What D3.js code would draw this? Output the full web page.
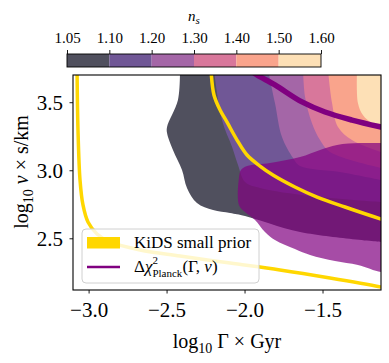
<!DOCTYPE html>
<html>
<head>
<meta charset="utf-8">
<script src="https://cdn.jsdelivr.net/npm/d3@7"></script>
<style>
body { margin: 0; background: #fff; }
text { font-family: "Liberation Serif", serif; fill: #000; }
</style>
</head>
<body>
<div id="chart"></div>
<script>
// colour levels of n_s
const nsLevels = [1.05, 1.10, 1.20, 1.30, 1.40, 1.50, 1.60];
const nsColors = ["#50505e", "#705796", "#a466a7", "#d8779b", "#f9a48c", "#fde0b6"];

const xTicks = [-3.0, -2.5, -2.0, -1.5];
const yTicks = [2.5, 3.0, 3.5];

// boundaries of n_s > level, as [log10 Gamma, log10 v], from top edge round to right edge
const ns105 = [[-2.414, 3.737], [-2.427, 3.516], [-2.497, 3.318], [-2.497, 3.274], [-2.459, 3.149],
    [-2.401, 3.002], [-2.369, 2.870], [-2.305, 2.759], [-2.202, 2.708], [-2.093, 2.686],
    [-1.997, 2.664], [-1.644, 2.546], [-1.125, 2.473]];
const ns110 = [[-2.196, 3.737], [-2.145, 3.369], [-2.080, 3.171], [-2.042, 3.039], [-1.997, 2.914],
    [-1.901, 2.870], [-1.580, 2.811], [-1.125, 2.767]];
const ns120 = [[-1.850, 3.737], [-1.805, 3.494], [-1.760, 3.244], [-1.689, 3.090], [-1.644, 3.031],
    [-1.388, 2.987], [-1.125, 2.928]];
const ns130 = [[-1.625, 3.737], [-1.612, 3.538], [-1.568, 3.347], [-1.516, 3.222], [-1.452, 3.134],
    [-1.125, 3.017]];
const ns140 = [[-1.465, 3.737], [-1.439, 3.494], [-1.401, 3.318], [-1.311, 3.222], [-1.125, 3.134]];
const ns150 = [[-1.279, 3.737], [-1.273, 3.494], [-1.241, 3.406], [-1.183, 3.347], [-1.125, 3.333]];
const nsRegions = [ns105, ns110, ns120, ns130, ns140, ns150];

// Delta chi^2 Planck filled region (closed)
const chi2Region = [[-2.036, 2.745], [-2.036, 2.943], [-2.023, 3.002], [-1.984, 3.031], [-1.837, 3.053],
    [-1.644, 3.097], [-1.516, 3.149], [-1.407, 3.186], [-1.260, 3.200], [-1.125, 3.200], [-1.05, 3.200],
    [-1.05, 2.252], [-1.125, 2.252], [-1.273, 2.304], [-1.420, 2.333], [-1.580, 2.377], [-1.677, 2.421],
    [-1.805, 2.487], [-1.869, 2.546], [-1.933, 2.634], [-1.997, 2.693]];
// Delta chi^2 Planck line
const chi2Line = [[-1.965, 3.737], [-1.920, 3.700], [-1.805, 3.627], [-1.632, 3.502], [-1.484, 3.428],
    [-1.311, 3.369], [-1.125, 3.318], [-1.035, 3.296]];

// KiDS small prior contours
const kidsOuter = [[-3.074, 3.737], [-3.068, 3.296], [-3.055, 2.928], [-3.036, 2.745], [-3.004, 2.620],
    [-2.946, 2.532], [-2.863, 2.473], [-2.670, 2.414], [-2.414, 2.370], [-2.093, 2.318], [-1.773, 2.267],
    [-1.452, 2.208], [-1.125, 2.142], [-1.035, 2.120]];
const kidsInner = [[-2.215, 3.737], [-2.196, 3.553], [-2.157, 3.443], [-2.113, 3.355], [-2.048, 3.222],
    [-1.984, 3.112], [-1.901, 3.031], [-1.818, 2.965], [-1.677, 2.877], [-1.535, 2.803], [-1.356, 2.730],
    [-1.125, 2.642], [-1.035, 2.612]];

const width = 389, height = 363;
const plotLeft = 73, plotRight = 381, plotTop = 75, plotBottom = 290;

const svg = d3.select("#chart")
    .append("svg")
    .attr("width", width)
    .attr("height", height);

const x = d3.scaleLinear().domain([-3.1, -1.125]).range([plotLeft, plotRight]);
const y = d3.scaleLinear().domain([2.12, 3.7]).range([plotBottom, plotTop]);

svg.append("clipPath").attr("id", "plot-clip")
    .append("rect")
    .attr("x", plotLeft).attr("y", plotTop)
    .attr("width", plotRight - plotLeft).attr("height", plotBottom - plotTop);

const plot = svg.append("g").attr("clip-path", "url(#plot-clip)");

const smooth = d3.line().x(d => x(d[0])).y(d => y(d[1])).curve(d3.curveCatmullRom.alpha(0.5));
const smoothClosed = d3.line().x(d => x(d[0])).y(d => y(d[1])).curve(d3.curveCatmullRomClosed.alpha(0.5));

// fill each n_s region, closing it outside the top right corner
const xOut = -1.0, yOut = 3.8;
plot.selectAll(".ns")
    .data(nsRegions)
    .enter()
    .append("path")
    .attr("class", "ns")
    .attr("d", pts => {
        const first = pts[0], last = pts[pts.length - 1];
        return smooth(pts) +
            `L${x(xOut)},${y(last[1])}L${x(xOut)},${y(yOut)}L${x(first[0])},${y(yOut)}Z`;
    })
    .attr("fill", (d, i) => nsColors[i]);

plot.append("path")
    .attr("d", smoothClosed(chi2Region))
    .attr("fill", "purple")
    .attr("fill-opacity", 0.7);

plot.append("path")
    .attr("d", smooth(chi2Line))
    .attr("fill", "none")
    .attr("stroke", "purple")
    .attr("stroke-width", 5.5);

[kidsOuter, kidsInner].forEach(pts => {
    plot.append("path")
        .attr("d", smooth(pts))
        .attr("fill", "none")
        .attr("stroke", "#ffd700")
        .attr("stroke-width", 3.5);
});

// axes
const xAxis = svg.append("g")
    .attr("transform", `translate(0, ${plotBottom})`)
    .call(d3.axisBottom(x).tickValues(xTicks).tickFormat(d3.format(".1f")).tickSize(3.5).tickSizeOuter(0));
xAxis.select(".domain").remove();
xAxis.selectAll("text")
    .attr("y", 27).attr("dy", 0)
    .style("font-size", "21px")
    .style("font-family", "Liberation Serif");

const yAxis = svg.append("g")
    .attr("transform", `translate(${plotLeft}, 0)`)
    .call(d3.axisLeft(y).tickValues(yTicks).tickFormat(d3.format(".1f")).tickSize(3.5).tickSizeOuter(0));
yAxis.select(".domain").remove();
yAxis.selectAll("text")
    .attr("x", -10).attr("dy", 7)
    .style("font-size", "21px")
    .style("font-family", "Liberation Serif");
svg.selectAll(".tick line").attr("stroke", "#000").attr("stroke-width", 0.9);

svg.append("rect")
    .attr("x", plotLeft).attr("y", plotTop)
    .attr("width", plotRight - plotLeft).attr("height", plotBottom - plotTop)
    .attr("fill", "none")
    .attr("stroke", "#000")
    .attr("stroke-width", 1.1);

// axis labels
const xLabel = svg.append("text")
    .attr("x", 227).attr("y", 348)
    .attr("text-anchor", "middle")
    .style("font-size", "20px");
xLabel.append("tspan").text("log");
xLabel.append("tspan").attr("dy", 5).style("font-size", "14px").text("10");
xLabel.append("tspan").attr("dy", -5).text(" Γ × Gyr");

const yLabel = svg.append("text")
    .attr("transform", "translate(28, 172) rotate(-90)")
    .attr("text-anchor", "middle")
    .style("font-size", "20px");
yLabel.append("tspan").text("log");
yLabel.append("tspan").attr("dy", 5).style("font-size", "14px").text("10");
yLabel.append("tspan").attr("dy", -5).text(" ");
yLabel.append("tspan").style("font-style", "italic").text("v");
yLabel.append("tspan").text(" × s/km");

// colorbar
const cbTop = 54, cbBottom = 67;
const cb = d3.scalePoint().domain(nsLevels).range([67, 321]);

svg.selectAll(".cb-seg")
    .data(nsColors)
    .enter()
    .append("rect")
    .attr("class", "cb-seg")
    .attr("x", (d, i) => cb(nsLevels[i]))
    .attr("y", cbTop)
    .attr("width", (d, i) => cb(nsLevels[i + 1]) - cb(nsLevels[i]))
    .attr("height", cbBottom - cbTop)
    .attr("fill", d => d);

svg.append("rect")
    .attr("x", cb(nsLevels[0])).attr("y", cbTop)
    .attr("width", cb(nsLevels[nsLevels.length - 1]) - cb(nsLevels[0]))
    .attr("height", cbBottom - cbTop)
    .attr("fill", "none")
    .attr("stroke", "#000")
    .attr("stroke-width", 0.9);

const cbAxis = svg.append("g")
    .attr("transform", `translate(0, ${cbTop})`)
    .call(d3.axisTop(cb).tickFormat(d3.format(".2f")).tickSize(4).tickSizeOuter(0));
cbAxis.select(".domain").remove();
cbAxis.selectAll("line").attr("stroke", "#000").attr("stroke-width", 0.9);
cbAxis.selectAll("text")
    .attr("y", -11)
    .style("font-size", "15px")
    .style("font-family", "Liberation Serif");

const cbLabel = svg.append("text")
    .attr("x", 194).attr("y", 21)
    .attr("text-anchor", "middle")
    .style("font-size", "15px")
    .style("font-style", "italic");
cbLabel.append("tspan").text("n");
cbLabel.append("tspan").attr("dy", 3).style("font-size", "11px").text("s");

// legend
const legend = svg.append("g");
legend.append("rect")
    .attr("x", 82).attr("y", 229)
    .attr("width", 177).attr("height", 54)
    .attr("rx", 4)
    .attr("fill", "#fff")
    .attr("fill-opacity", 0.8)
    .attr("stroke", "#d0d0d0")
    .attr("stroke-width", 1);

legend.append("rect")
    .attr("x", 87).attr("y", 237)
    .attr("width", 33).attr("height", 11.5)
    .attr("fill", "#ffd700");
legend.append("text")
    .attr("x", 134).attr("y", 248)
    .style("font-size", "17px")
    .text("KiDS small prior");

legend.append("line")
    .attr("x1", 87).attr("x2", 120)
    .attr("y1", 267).attr("y2", 267)
    .attr("stroke", "purple")
    .attr("stroke-width", 2.5);
const chiText = legend.append("text")
    .attr("x", 134).attr("y", 272)
    .style("font-size", "17px");
chiText.append("tspan").text("Δ");
chiText.append("tspan").style("font-style", "italic").text("χ");
chiText.append("tspan").attr("dy", -8).style("font-size", "11px").text("2");
chiText.append("tspan").attr("dx", -5.5).attr("dy", 13).style("font-size", "11px").text("Planck");
chiText.append("tspan").attr("dy", -5).text("(Γ, ");
chiText.append("tspan").style("font-style", "italic").text("v");
chiText.append("tspan").text(")");
</script>
</body>
</html>
